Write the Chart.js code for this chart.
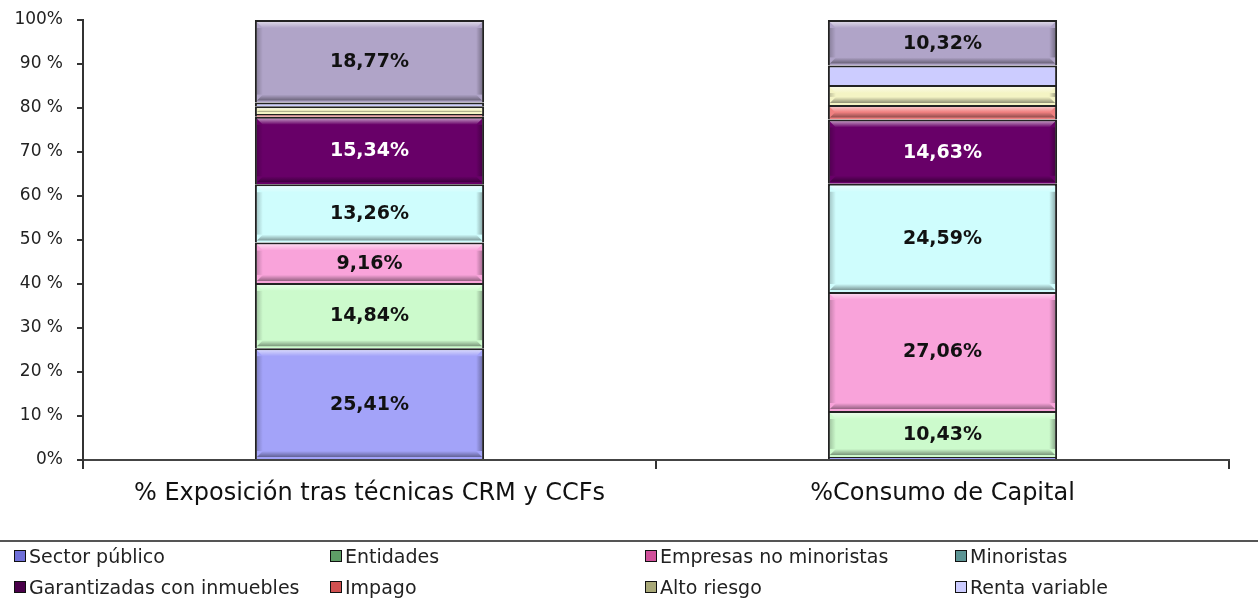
<!DOCTYPE html>
<html>
<head>
<meta charset="utf-8">
<script src="https://cdn.jsdelivr.net/npm/chart.js@4.4.1/dist/chart.umd.min.js"></script>
<style>
  html, body { margin: 0; padding: 0; background: #fff; }
  #wrap { position: relative; width: 1258px; height: 599px; overflow: hidden; }
  #c { position: absolute; left: 0; top: 0; }
  #legendLine { position: absolute; left: 0; top: 540px; width: 1258px; height: 0; border-top: 2px solid #555; }
  .lg { position: absolute; font-family: "DejaVu Sans", sans-serif; font-size: 19px; color: #222; white-space: nowrap; line-height: 20px; }
  .sw { position: absolute; width: 10px; height: 10px; border: 1px solid #111; }
</style>
</head>
<body>
<div id="wrap">
  <canvas id="c" width="1258" height="599"></canvas>
  <div id="legendLine"></div>
  <div id="legend"></div>
</div>
<script>
// ---- data ----
const categories = ['% Exposición tras técnicas CRM y CCFs', '%Consumo de Capital'];
const seriesNames = ['Sector público', 'Entidades', 'Empresas no minoristas', 'Minoristas',
  'Garantizadas con inmuebles', 'Impago', 'Alto riesgo', 'Renta variable', 'Resto'];
const sectorPublico = [25.41, 0.70];
const entidades = [14.84, 10.43];
const empresasNoMinoristas = [9.16, 27.06];
const minoristas = [13.26, 24.59];
const garantizadasInmuebles = [15.34, 14.63];
const impago = [0.60, 3.30];
const altoRiesgo = [1.80, 4.50];
const rentaVariable = [0.82, 4.47];
const resto = [18.77, 10.32];
const yTickLabels = ['0%', '10 %', '20 %', '30 %', '40 %', '50 %', '60 %', '70 %', '80 %', '90 %', '100%'];

// ---- styles ----
const fills = ['#A3A3F9', '#CCFACC', '#F9A3DA', '#CFFDFD', '#680068', '#F08080', '#F4F4C4', '#CCCCFF', '#B0A4C8'];
const swatches = ['#6F6FD8', '#5E9E66', '#D0509A', '#5C9494', '#4A004A', '#D05050', '#A8A878', '#CCCCFF', '#8878A8'];
const labelColors = ['#111', '#111', '#111', '#111', '#fff', '#111', '#111', '#111', '#111'];
const flat = [false, false, false, false, false, false, false, true, false];
const seriesData = [sectorPublico, entidades, empresasNoMinoristas, minoristas,
  garantizadasInmuebles, impago, altoRiesgo, rentaVariable, resto];
const legendCount = 8;

const datasets = seriesData.map((d, i) => ({
  label: seriesNames[i],
  data: d,
  backgroundColor: fills[i],
  borderColor: '#222',
  borderWidth: 2,
  categoryPercentage: 1.0,
  barPercentage: 0.4
}));

const bevelPlugin = {
  id: 'bevel',
  afterDatasetsDraw(chart) {
    const ctx = chart.ctx;
    chart.data.datasets.forEach((ds, di) => {
      if (flat[di]) return;
      const meta = chart.getDatasetMeta(di);
      meta.data.forEach((el) => {
        const p = el.getProps(['x', 'y', 'base', 'width'], true);
        const l = p.x - p.width / 2 + 2, r = p.x + p.width / 2 - 2;
        const t = Math.min(p.y, p.base) + 2, b = Math.max(p.y, p.base) - 2;
        const h = b - t;
        if (h <= 0) return;
        const bw = Math.min(6, h / 2);
        ctx.save();
        let g = ctx.createLinearGradient(0, t, 0, t + bw);
        g.addColorStop(0, 'rgba(255,255,255,0.55)');
        g.addColorStop(1, 'rgba(255,255,255,0)');
        ctx.fillStyle = g;
        ctx.beginPath();
        ctx.moveTo(l, t); ctx.lineTo(r, t); ctx.lineTo(r - bw, t + bw); ctx.lineTo(l + bw, t + bw); ctx.closePath();
        ctx.fill();
        g = ctx.createLinearGradient(0, b - bw, 0, b);
        g.addColorStop(0, 'rgba(0,0,0,0)');
        g.addColorStop(1, 'rgba(0,0,0,0.4)');
        ctx.fillStyle = g;
        ctx.beginPath();
        ctx.moveTo(l, b); ctx.lineTo(r, b); ctx.lineTo(r - bw, b - bw); ctx.lineTo(l + bw, b - bw); ctx.closePath();
        ctx.fill();
        g = ctx.createLinearGradient(r - bw, 0, r, 0);
        g.addColorStop(0, 'rgba(0,0,0,0)');
        g.addColorStop(1, 'rgba(0,0,0,0.3)');
        ctx.fillStyle = g;
        ctx.fillRect(r - bw, t + bw, bw, Math.max(0, h - 2 * bw));
        g = ctx.createLinearGradient(l, 0, l + bw, 0);
        g.addColorStop(0, 'rgba(0,0,0,0.2)');
        g.addColorStop(1, 'rgba(0,0,0,0)');
        ctx.fillStyle = g;
        ctx.fillRect(l, t + bw, bw, Math.max(0, h - 2 * bw));
        ctx.restore();
      });
    });
  }
};

const labelPlugin = {
  id: 'segLabels',
  afterDatasetsDraw(chart) {
    const ctx = chart.ctx;
    ctx.save();
    ctx.font = 'bold 19px "DejaVu Sans", sans-serif';
    ctx.textAlign = 'center';
    ctx.textBaseline = 'middle';
    chart.data.datasets.forEach((ds, di) => {
      const meta = chart.getDatasetMeta(di);
      meta.data.forEach((el, i) => {
        const v = ds.data[i];
        if (v < 5) return;
        const p = el.getProps(['x', 'y', 'base'], true);
        ctx.fillStyle = labelColors[di];
        ctx.fillText(v.toFixed(2).replace('.', ',') + '%', p.x, (p.y + p.base) / 2 + 1);
      });
    });
    ctx.restore();
  }
};

new Chart(document.getElementById('c'), {
  type: 'bar',
  data: { labels: categories, datasets },
  options: {
    responsive: false,
    animation: false,
    layout: { padding: { left: 0, right: 29, top: 20, bottom: 0 } },
    plugins: { legend: { display: false }, tooltip: { enabled: false } },
    scales: {
      x: {
        stacked: true,
        grid: { offset: true, drawOnChartArea: false, drawTicks: true, tickLength: 9, color: '#333', lineWidth: 2 },
        border: { display: true, color: '#444', width: 2 },
        ticks: { color: '#111', font: { family: 'DejaVu Sans', size: 24 }, padding: 10 },
        afterFit(scale) { scale.height = 139; scale.paddingLeft = 0; scale.paddingRight = 0; }
      },
      y: {
        stacked: true,
        min: 0, max: 100,
        grid: { drawOnChartArea: false, drawTicks: true, tickLength: 6, color: '#333', lineWidth: 2 },
        border: { display: true, color: '#333', width: 2 },
        ticks: {
          stepSize: 10,
          color: '#222',
          font: { family: 'DejaVu Sans', size: 17 },
          padding: 14,
          callback: (v, i) => yTickLabels[i]
        },
        afterFit(scale) { scale.width = 83; scale.paddingTop = 0; scale.paddingBottom = 0; }
      }
    }
  },
  plugins: [bevelPlugin, labelPlugin]
});

// ---- legend (HTML) ----
const legendCols = [14, 330, 645, 955];
const legendRows = [556, 587];
const legendEl = document.getElementById('legend');
for (let i = 0; i < legendCount; i++) {
  const col = i % 4, row = Math.floor(i / 4);
  const x = legendCols[col], y = legendRows[row];
  const sw = document.createElement('div');
  sw.className = 'sw';
  sw.style.left = x + 'px';
  sw.style.top = (y - 6) + 'px';
  sw.style.background = swatches[i];
  legendEl.appendChild(sw);
  const tx = document.createElement('div');
  tx.className = 'lg';
  tx.style.left = (x + 15) + 'px';
  tx.style.top = (y - 10) + 'px';
  tx.textContent = seriesNames[i];
  legendEl.appendChild(tx);
}
</script>
</body>
</html>
